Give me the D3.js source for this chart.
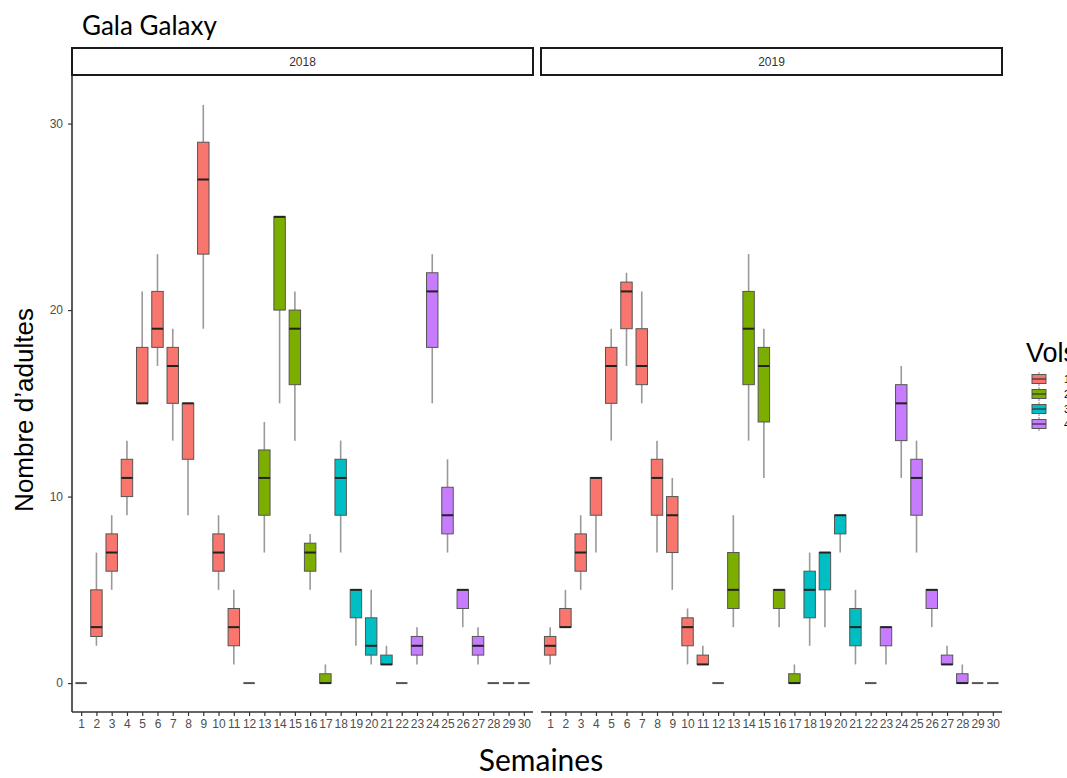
<!DOCTYPE html>
<html>
<head>
<meta charset="utf-8">
<script src="https://cdn.jsdelivr.net/npm/d3@7"></script>
<style>
  body { margin: 0; background: #fff; }
  text { font-family: "Liberation Sans", Arial, sans-serif; }
</style>
</head>
<body>
<script>
// semaines et vol de chaque semaine
var weeks = d3.range(1, 31);
var vols = ["1", "2", "3", "4"];
var volOfWeek = [1,1,1,1,1,1,1,1,1,1,1,1, 2,2,2,2,2, 3,3,3,3,3, 4,4,4,4,4,4,4,4];
var years = ["2018", "2019"];

// [min, q1, mediane, q3, max] par semaine
var stats2018 = [
  [0,0,0,0,0], [2,2.5,3,5,7], [5,6,7,8,9], [9,10,11,12,13], [15,15,15,18,21],
  [17,18,19,21,23], [13,15,17,18,19], [9,12,15,15,15], [19,23,27,29,31], [5,6,7,8,9],
  [1,2,3,4,5], [0,0,0,0,0], [7,9,11,12.5,14], [15,20,25,25,25], [13,16,19,20,21],
  [5,6,7,7.5,8], [0,0,0,0.5,1], [7,9,11,12,13], [2,3.5,5,5,5], [1,1.5,2,3.5,5],
  [1,1,1,1.5,2], [0,0,0,0,0], [1,1.5,2,2.5,3], [15,18,21,22,23], [7,8,9,10.5,12],
  [3,4,5,5,5], [1,1.5,2,2.5,3], [0,0,0,0,0], [0,0,0,0,0], [0,0,0,0,0]
];
var stats2019 = [
  [1,1.5,2,2.5,3], [3,3,3,4,5], [5,6,7,8,9], [7,9,11,11,11], [13,15,17,18,19],
  [17,19,21,21.5,22], [15,16,17,19,21], [7,9,11,12,13], [5,7,9,10,11], [1,2,3,3.5,4],
  [1,1,1,1.5,2], [0,0,0,0,0], [3,4,5,7,9], [13,16,19,21,23], [11,14,17,18,19],
  [3,4,5,5,5], [0,0,0,0.5,1], [2,3.5,5,6,7], [3,5,7,7,7], [7,8,9,9,9],
  [1,2,3,4,5], [0,0,0,0,0], [1,2,3,3,3], [11,13,15,16,17], [7,9,11,12,13],
  [3,4,5,5,5], [1,1,1,1.5,2], [0,0,0,0.5,1], [0,0,0,0,0], [0,0,0,0,0]
];
var statsByYear = [stats2018, stats2019];
var yTicks = [0, 10, 20, 30];

var width = 1067, height = 778;
var panelTop = 76, panelBottom = 712;
var panels = [[72, 533], [541, 1002]];

var color = d3.scaleOrdinal().domain(vols).range(["#F8766D", "#7CAE00", "#00BFC4", "#C77CFF"]);

var svg = d3.select("body").append("svg")
    .attr("width", width)
    .attr("height", height);

var y = d3.scaleLinear().domain([-1.55, 32.55]).range([panelBottom, panelTop]);

// titre
svg.append("text")
    .attr("x", 82).attr("y", 35)
    .style("font-family", "Lato, 'Open Sans', sans-serif")
    .attr("font-size", 26)
    .attr("fill", "#000")
    .text("Gala Galaxy");

years.forEach(function(year, pi) {
  var x = d3.scalePoint().domain(weeks).range(panels[pi]).padding(0.6);
  var bw = x.step() * 0.75;
  var g = svg.append("g");

  // bandeau
  g.append("rect")
      .attr("x", panels[pi][0]).attr("y", 48)
      .attr("width", panels[pi][1] - panels[pi][0]).attr("height", 27)
      .attr("fill", "#fff").attr("stroke", "#1a1a1a").attr("stroke-width", 2);
  g.append("text")
      .attr("x", (panels[pi][0] + panels[pi][1]) / 2).attr("y", 66)
      .attr("text-anchor", "middle")
      .attr("font-size", 12).attr("fill", "#333")
      .text(year);

  // axe x
  var xAxis = g.append("g")
      .attr("transform", "translate(0," + panelBottom + ")")
      .call(d3.axisBottom(x).tickSize(4).tickPadding(3));
  xAxis.select(".domain").attr("stroke", "#333").attr("stroke-width", 1.6)
      .attr("d", "M" + panels[pi][0] + ",0H" + panels[pi][1]);
  xAxis.selectAll(".tick line").attr("stroke", "#333").attr("stroke-width", 1.2);
  xAxis.selectAll(".tick text").attr("font-size", 12).attr("fill", "#4d4d4d")
      .style("font-family", "'Liberation Sans', Arial, sans-serif");

  // axe y (panneau de gauche seulement)
  if (pi === 0) {
    var yAxis = g.append("g")
        .attr("transform", "translate(" + panels[0][0] + ",0)")
        .call(d3.axisLeft(y).tickValues(yTicks).tickSize(4).tickPadding(5));
    yAxis.select(".domain").attr("stroke", "#333").attr("stroke-width", 1.6)
        .attr("d", "M0," + panelTop + "V" + panelBottom);
    yAxis.selectAll(".tick line").attr("stroke", "#333").attr("stroke-width", 1.2);
    yAxis.selectAll(".tick text").attr("font-size", 12).attr("fill", "#4d4d4d")
        .style("font-family", "'Liberation Sans', Arial, sans-serif");
  }

  var data = weeks.map(function(w, i) {
    var s = statsByYear[pi][i];
    return {week: w, vol: String(volOfWeek[i]), min: s[0], q1: s[1], med: s[2], q3: s[3], max: s[4]};
  });

  var box = g.append("g").selectAll("g").data(data).join("g");

  // moustaches
  box.append("line")
      .attr("x1", d => x(d.week)).attr("x2", d => x(d.week))
      .attr("y1", d => y(d.max)).attr("y2", d => y(d.q3))
      .attr("stroke", "#999").attr("stroke-width", 1.6);
  box.append("line")
      .attr("x1", d => x(d.week)).attr("x2", d => x(d.week))
      .attr("y1", d => y(d.q1)).attr("y2", d => y(d.min))
      .attr("stroke", "#999").attr("stroke-width", 1.6);

  box.filter(d => d.q3 > d.q1).append("rect")
      .attr("x", d => x(d.week) - bw / 2)
      .attr("y", d => y(d.q3))
      .attr("width", bw)
      .attr("height", d => y(d.q1) - y(d.q3))
      .attr("fill", d => color(d.vol))
      .attr("stroke", "#555").attr("stroke-width", 1);

  // mediane
  box.append("line")
      .attr("x1", d => x(d.week) - bw / 2).attr("x2", d => x(d.week) + bw / 2)
      .attr("y1", d => y(d.med)).attr("y2", d => y(d.med))
      .attr("stroke", d => d.q3 > d.q1 ? "#222" : "#555")
      .attr("stroke-width", 2);
});

// titres des axes
svg.append("text")
    .attr("x", 541).attr("y", 771)
    .attr("text-anchor", "middle")
    .style("font-family", "Lato, 'Open Sans', sans-serif")
    .attr("font-size", 30).attr("fill", "#000")
    .text("Semaines");

svg.append("text")
    .attr("transform", "translate(33,410) rotate(-90)")
    .attr("text-anchor", "middle")
    .attr("font-size", 26).attr("fill", "#000")
    .text("Nombre d\u2019adultes");

// legende
var leg = svg.append("g");
leg.append("text")
    .attr("x", 1026).attr("y", 362)
    .attr("font-size", 27).attr("fill", "#000")
    .text("Vols");
var key = leg.selectAll("g.key").data(vols).join("g")
    .attr("class", "key")
    .attr("transform", (d, i) => "translate(1039," + (379 + i * 15) + ")");
key.append("line").attr("y1", -7).attr("y2", 7).attr("stroke", "#999").attr("stroke-width", 1.2);
key.append("rect").attr("x", -7).attr("y", -4.5).attr("width", 14).attr("height", 9)
    .attr("fill", d => color(d)).attr("stroke", "#555").attr("stroke-width", 1);
key.append("line").attr("x1", -7).attr("x2", 7).attr("stroke", "#333").attr("stroke-width", 1.2);
key.append("text").attr("x", 1064 - 1039).attr("y", 4).attr("font-size", 11).attr("fill", "#000")
    .text(d => d);
</script>
</body>
</html>
